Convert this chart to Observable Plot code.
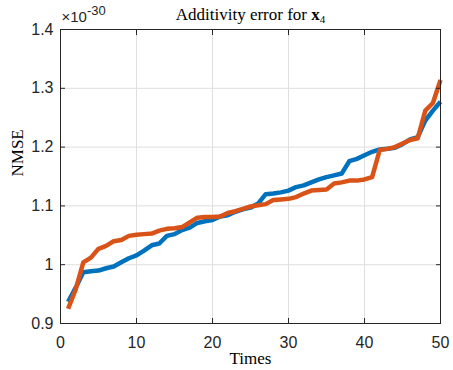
<!DOCTYPE html>
<html><head><meta charset="utf-8">
<script src="https://cdn.jsdelivr.net/npm/d3@7"></script>
<script src="https://cdn.jsdelivr.net/npm/@observablehq/plot@0.6"></script>
<style>body{margin:0;background:#fff}</style>
</head><body><div id="chart"></div>
<script>
const times = [1,2,3,4,5,6,7,8,9,10,11,12,13,14,15,16,17,18,19,20,21,22,23,24,25,26,27,28,29,30,31,32,33,34,35,36,37,38,39,40,41,42,43,44,45,46,47,48,49,50];
const seriesBlue = [0.937,0.961,0.987,0.989,0.990,0.994,0.997,1.004,1.011,1.016,1.024,1.033,1.036,1.049,1.052,1.059,1.063,1.071,1.074,1.076,1.082,1.084,1.090,1.094,1.097,1.104,1.120,1.121,1.123,1.126,1.132,1.135,1.140,1.145,1.149,1.152,1.155,1.176,1.180,1.186,1.192,1.196,1.197,1.199,1.205,1.213,1.217,1.245,1.262,1.277];
const seriesOrange = [0.925,0.958,1.004,1.012,1.027,1.032,1.040,1.042,1.049,1.051,1.052,1.053,1.058,1.061,1.062,1.064,1.072,1.080,1.081,1.081,1.082,1.088,1.091,1.095,1.099,1.101,1.103,1.110,1.111,1.112,1.115,1.121,1.126,1.127,1.128,1.138,1.140,1.143,1.143,1.145,1.149,1.195,1.197,1.200,1.206,1.212,1.215,1.262,1.275,1.314];
const xTicks = [0,10,20,30,40,50];
const yTicks = [0.9,1,1.1,1.2,1.3,1.4];
const titleText = ["Additivity error for x4"];
const exponentText = ["×10-30"];
const xLabel = ["Times"];
const yLabel = ["NMSE"];

const blueData = times.map((t,i) => ({t, v: seriesBlue[i]}));
const orangeData = times.map((t,i) => ({t, v: seriesOrange[i]}));

const axisColor = "#262626";
const sans = "'Liberation Sans', Arial, sans-serif";
const serif = "'Liberation Serif', 'Times New Roman', serif";

const chart = Plot.plot({
  width: 453, height: 370,
  marginLeft: 60, marginRight: 13, marginTop: 29, marginBottom: 47,
  style: {fontFamily: sans, fontSize: "16px", color: axisColor, background: "#fff"},
  x: {domain: [0, 50]},
  y: {domain: [0.9, 1.4]},
  marks: [
    Plot.gridX(xTicks, {stroke: "#dfdfdf", strokeOpacity: 1}),
    Plot.gridY(yTicks, {stroke: "#dfdfdf", strokeOpacity: 1}),
    Plot.line(blueData, {x: "t", y: "v", stroke: "#0072BD", strokeWidth: 4.5, strokeLinecap: "butt"}),
    Plot.line(orangeData, {x: "t", y: "v", stroke: "#D95319", strokeWidth: 4.5, strokeLinecap: "butt"}),
    Plot.frame({stroke: axisColor, strokeWidth: 1}),
    Plot.axisX(xTicks, {anchor: "bottom", tickSize: -5, tickPadding: 18, label: null, fontSize: 16, stroke: axisColor, fill: axisColor}),
    Plot.axisX(xTicks, {anchor: "top", tickSize: -5, tickFormat: () => "", label: null, stroke: axisColor}),
    Plot.axisY(yTicks, {anchor: "left", tickSize: -5, tickPadding: 12, fontSize: 16, tickFormat: d => String(d), label: null, stroke: axisColor, fill: axisColor}),
    Plot.axisY(yTicks, {anchor: "right", tickSize: -5, tickFormat: () => "", label: null, stroke: axisColor}),
    Plot.text(titleText, {frameAnchor: "top", dy: -15, lineAnchor: "middle", fontFamily: serif, fontSize: 17, fill: "#000"}),
    Plot.text(exponentText, {frameAnchor: "top-left", dx: 1, dy: -12, textAnchor: "start", lineAnchor: "middle", fontFamily: sans, fontSize: 15, fill: axisColor}),
    Plot.text(xLabel, {frameAnchor: "bottom", dy: 35, lineAnchor: "middle", fontFamily: serif, fontSize: 17, fill: "#000"}),
    Plot.text(yLabel, {frameAnchor: "left", dx: -43, rotate: -90, lineAnchor: "middle", fontFamily: serif, fontSize: 17, fill: "#000"})
  ]
});

const NS = "http://www.w3.org/2000/svg";
function tspan(txt, attrs) {
  const s = document.createElementNS(NS, "tspan");
  s.textContent = txt;
  for (const k in attrs) s.setAttribute(k, attrs[k]);
  return s;
}
for (const t of chart.querySelectorAll("text")) {
  if (t.textContent === titleText[0]) {
    t.textContent = "";
    t.appendChild(tspan("Additivity error for ", {}));
    t.appendChild(tspan("x", {"font-weight": "bold"}));
    t.appendChild(tspan("4", {"font-size": "11", dy: "3"}));
  } else if (t.textContent === exponentText[0]) {
    t.textContent = "";
    t.appendChild(tspan("×10", {}));
    t.appendChild(tspan("-30", {"font-size": "13", dy: "-7"}));
  }
}
document.getElementById("chart").appendChild(chart);
</script>
</body></html>
